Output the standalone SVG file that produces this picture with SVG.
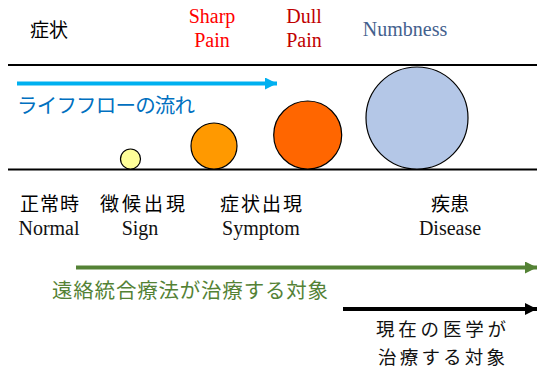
<svg xmlns="http://www.w3.org/2000/svg" width="537" height="370" viewBox="0 0 537 370">
<style>
.jp{font-family:"Noto Sans CJK JP","Noto Sans CJK SC",sans-serif;}
.en{font-family:"Liberation Serif","Times New Roman",serif;font-size:20px;}
.lbl{font-size:19px;fill:#000;}
.mid{text-anchor:middle;}
.ball{stroke:#000;stroke-width:1.2;}
</style>
<defs>
<marker id="ahBlue" viewBox="0 0 10 10" refX="10" refY="5" markerWidth="3" markerHeight="3" markerUnits="strokeWidth" orient="auto"><path d="M0,0 L10,5 L0,10 z" fill="#00B0F0"/></marker>
<marker id="ahGreen" viewBox="0 0 10 10" refX="10" refY="5" markerWidth="3" markerHeight="3" markerUnits="strokeWidth" orient="auto"><path d="M0,0 L10,5 L0,10 z" fill="#548235"/></marker>
<marker id="ahBlack" viewBox="0 0 10 10" refX="10" refY="5" markerWidth="3" markerHeight="3" markerUnits="strokeWidth" orient="auto"><path d="M0,0 L10,5 L0,10 z" fill="#000"/></marker>
</defs>
<rect width="537" height="370" fill="#fff"/>
<g id="connectors">
<line x1="8" y1="65" x2="537" y2="65" stroke="#000" stroke-width="2.2"/>
<line x1="8" y1="169.5" x2="537" y2="169.5" stroke="#000" stroke-width="2.2"/>
<line x1="17" y1="83.5" x2="277" y2="83.5" stroke="#00B0F0" stroke-width="4" marker-end="url(#ahBlue)"/>
<line x1="76" y1="267.5" x2="537" y2="267.5" stroke="#548235" stroke-width="4" marker-end="url(#ahGreen)"/>
<line x1="343" y1="309" x2="537" y2="309" stroke="#000" stroke-width="4" marker-end="url(#ahBlack)"/>
</g>
<g id="title"><text class="jp lbl" x="30" y="37" textLength="38" lengthAdjust="spacing">症状</text></g>
<g id="lifeflow"><text class="jp" x="17" y="113" font-size="20.5" fill="#0070C0" textLength="178" lengthAdjust="spacing">ライフフローの流れ</text></g>
<g id="sharp"><text class="en mid" x="212" y="23" fill="#FF0000">Sharp</text><text class="en mid" x="212" y="47" fill="#FF0000">Pain</text></g>
<g id="dull"><text class="en mid" x="304" y="23" fill="#C00000">Dull</text><text class="en mid" x="304" y="47" fill="#C00000">Pain</text></g>
<g id="numbness"><text class="en mid" x="405" y="36" fill="#44618E">Numbness</text></g>
<g id="ball-sign"><circle class="ball" cx="130.5" cy="159" r="10" fill="#FFFF99"/></g>
<g id="ball-sharp"><circle class="ball" cx="214" cy="146" r="23" fill="#FF9900"/></g>
<g id="ball-dull"><circle class="ball" cx="307.7" cy="135" r="34" fill="#FF6600"/></g>
<g id="ball-numb"><circle class="ball" cx="417" cy="118" r="51" fill="#B4C7E7"/></g>
<g id="normal"><text class="jp lbl" x="20" y="211" textLength="59" lengthAdjust="spacing">正常時</text><text class="en mid" x="49" y="235" fill="#111">Normal</text></g>
<g id="sign"><text class="jp lbl" x="100" y="211" textLength="85" lengthAdjust="spacing">徴候出現</text><text class="en mid" x="140" y="235" fill="#111">Sign</text></g>
<g id="symptom"><text class="jp lbl" x="220" y="211" textLength="82" lengthAdjust="spacing">症状出現</text><text class="en mid" x="261" y="235" fill="#111">Symptom</text></g>
<g id="disease"><text class="jp lbl mid" x="450" y="211">疾患</text><text class="en mid" x="450" y="235" fill="#111">Disease</text></g>
<g id="enraku"><text class="jp" x="52" y="298" font-size="20.5" fill="#548235" textLength="276" lengthAdjust="spacing">遠絡統合療法が治療する対象</text></g>
<g id="modern"><text class="jp" x="376" y="336" font-size="18.5" fill="#111" textLength="130" lengthAdjust="spacing">現在の医学が</text><text class="jp" x="378" y="363.5" font-size="18.5" fill="#111" textLength="127" lengthAdjust="spacing">治療する対象</text></g>
</svg>
